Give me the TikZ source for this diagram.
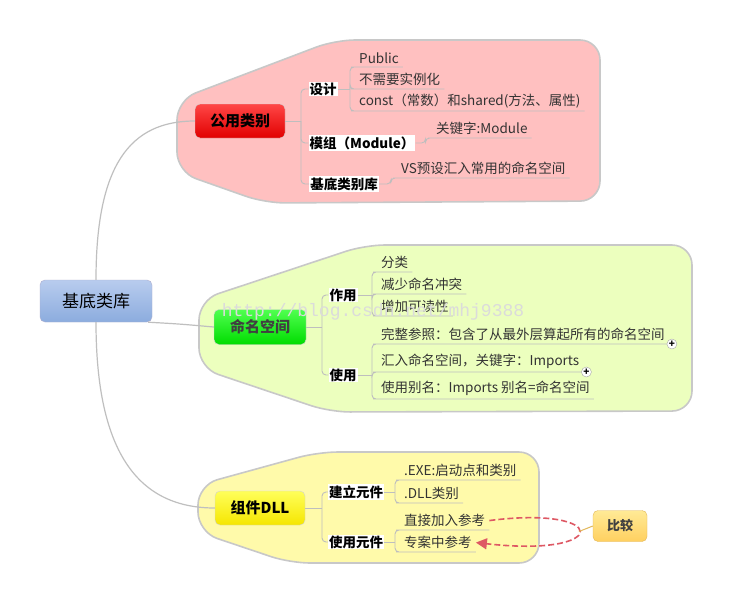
\documentclass[tikz,border=0pt]{standalone}
\usepackage{fontspec}
\setmainfont{Noto Sans CJK SC}
\newfontfamily\wmfont{Liberation Mono}
\usetikzlibrary{arrows.meta,calc}

\definecolor{pinkbg}{RGB}{255,192,192}
\definecolor{greenbg}{RGB}{236,255,190}
\definecolor{yellowbg}{RGB}{255,250,170}
\definecolor{edgegray}{RGB}{200,200,200}
\definecolor{linkgray}{RGB}{190,190,190}
\definecolor{cmpred}{RGB}{222,88,100}
\definecolor{cmpedge}{RGB}{226,184,90}

\tikzset{
  region/.style={draw=edgegray, line width=1.6pt, rounded corners=20pt},
  topic/.style={draw=gray!35, rounded corners=5pt, minimum width=90pt, minimum height=34pt, inner sep=0pt, font=\fontsize{15}{17}\selectfont\bfseries},
  subtopic/.style={fill=white, inner sep=1pt, font=\fontsize{13.5}{15}\selectfont\bfseries},
  leaf/.style={anchor=south west, inner xsep=4pt, inner ysep=3pt, font=\fontsize{13.5}{15}\selectfont, text=black!80},
  link/.style={draw=linkgray, line width=0.9pt, rounded corners=4pt},
  stem/.style={draw=gray!50, line width=1.2pt},
  plus/.style={circle, draw=gray!70, fill=white, inner sep=0pt, minimum size=10pt, font=\fontsize{10}{10}\selectfont\bfseries},
  cmpline/.style={draw=cmpred, line width=1.6pt, dashed, dash pattern=on 6pt off 3pt, -{Triangle[length=11pt,width=11pt]}},
}

\begin{document}
\begin{tikzpicture}[x=1pt,y=-1pt]
\useasboundingbox[fill=white] (0,0) rectangle (733,603);

% colour fields behind the three branches
\draw[region, fill=pinkbg] (177,100) -- (335,40) -- (600,40) -- (600,201) -- (265,203) -- (177,172) -- cycle;
\draw[region, fill=greenbg] (199,300) -- (365,245) -- (692,245) -- (692,411) -- (330,412) -- (199,368) -- cycle;
\draw[region, fill=yellowbg] (198,485) -- (318,452) -- (539,452) -- (539,563) -- (290,563) -- (198,532) -- cycle;

% root and main topics
\node[topic, draw=blue!25!gray!50, minimum width=112pt, minimum height=42pt, font=\fontsize{17}{19}\selectfont,
  top color={rgb,255:red,184;green,204;blue,238}, bottom color={rgb,255:red,140;green,172;blue,222}] (root) at (96,301) {基底类库};
\node[topic, top color={rgb,255:red,255;green,70;blue,70}, bottom color={rgb,255:red,225;green,0;blue,0}] (gy) at (240,121) {公用类别};
\node[topic, minimum width=92pt, minimum height=35pt, text=black!75,
  top color={rgb,255:red,80;green,255;blue,80}, bottom color={rgb,255:red,0;green,220;blue,0}] (mm) at (260,327) {命名空间};
\node[topic, top color={rgb,255:red,255;green,255;blue,90}, bottom color={rgb,255:red,245;green,230;blue,0}] (zj) at (260,508) {组件DLL};

\draw[stem] (root.north) .. controls (96,165) and (130,121) .. (gy.west);
\draw[stem] ($(root.south east)+(-4,0)$) .. controls (180,324) .. (mm.west);
\draw[stem] (root.south) .. controls (96,455) and (140,508) .. (zj.west);

% branch 1
\node[subtopic] (sheji) at (323,89) {设计};
\node[subtopic] (mozu) at (362,143) {模组（Module）};
\node[subtopic] (jidi) at (344,184) {基底类别库};
\foreach \n/\x/\y/\txt in {pub/355/67/Public, shili/355/89/不需要实例化,
    const/355/111/const（常数）和shared(方法、属性), kw/432/138/关键字:Module,
    vs/397/178/VS预设汇入常用的命名空间}
  \node[leaf] (\n) at (\x,\y) {\txt};

\draw[link] (gy.east) -- (301,121) coordinate (gyb);
\foreach \n in {sheji,mozu,jidi} \draw[link] (gyb) |- (\n.west);
\draw[link] (sheji.east) -- (350,89) coordinate (sjb);
\foreach \n in {pub,shili,const} \draw[link] (sjb) |- (\n.south west) -- (\n.south east);
\draw[link] (mozu.east) -- ++(10,0) |- (kw.south west) -- (kw.south east);
\draw[link] (jidi.east) -- ++(12,0) |- (vs.south west) -- (vs.south east);

% branch 2
\node[subtopic] (zuoyong) at (343,295) {作用};
\node[subtopic] (shiyong) at (343,375) {使用};
\foreach \n/\x/\y/\txt in {fenlei/377/272/分类, jianshao/377/294/减少命名冲突,
    zengjia/377/316/增加可读性, wanzheng/377/344/完整参照：包含了从最外层算起所有的命名空间,
    huiru/377/372/汇入命名空间，关键字：Imports, bieming/377/399/使用别名：Imports 别名=命名空间}
  \node[leaf] (\n) at (\x,\y) {\txt};

\draw[link] (mm.east) -- (322,327) coordinate (mmb);
\foreach \n in {zuoyong,shiyong} \draw[link] (mmb) |- (\n.west);
\draw[link] (zuoyong.east) -- (372,295) coordinate (zyb);
\foreach \n in {fenlei,jianshao,zengjia} \draw[link] (zyb) |- (\n.south west) -- (\n.south east);
\draw[link] (shiyong.east) -- (372,375) coordinate (syb);
\foreach \n in {wanzheng,huiru,bieming} \draw[link] (syb) |- (\n.south west) -- (\n.south east);
\node[plus] (pl1) at ([xshift=3pt]wanzheng.south east) {+};
\node[plus] (pl2) at ([xshift=3pt]huiru.south east) {+};

% branch 3
\node[subtopic] (jianli) at (356,492) {建立元件};
\node[subtopic] (shiyj) at (356,542) {使用元件};
\foreach \n/\x/\y/\txt in {exe/400/480/.EXE:启动点和类别, dll/400/503/.DLL类别,
    zhijie/400/530/直接加入参考, zhuanan/400/552/专案中参考}
  \node[leaf] (\n) at (\x,\y) {\txt};

\draw[link] (zj.east) -- (322,508) coordinate (zjb);
\foreach \n in {jianli,shiyj} \draw[link] (zjb) |- (\n.west);
\draw[link] (jianli.east) -- (395,492) coordinate (jlb);
\foreach \n in {exe,dll} \draw[link] (jlb) |- (\n.south west) -- (\n.south east);
\draw[link] (shiyj.east) -- (395,542) coordinate (syjb);
\foreach \n in {zhijie,zhuanan} \draw[link] (syjb) |- (\n.south west) -- (\n.south east);

% comparison
\draw[cmpline] (zhijie.east) .. controls (610,505) and (612,558) .. (zhuanan.east) coordinate[pos=.5] (cmpmid);
\node[topic, draw=cmpedge, minimum width=54pt, minimum height=31pt, font=\fontsize{13}{15}\selectfont\bfseries, text=black!75,
  top color={rgb,255:red,255;green,234;blue,150}, bottom color={rgb,255:red,255;green,208;blue,96}] (bijiao) at (620,526) {比较};
\draw[draw=cmpedge, line width=1pt] (bijiao.west) -- (cmpmid);

% watermark
\node[text=gray!28, font=\fontsize{18}{18}\selectfont\wmfont] (wm) at (373,312) {http://blog.csdn.net/mhj9388};
\end{tikzpicture}
\end{document}
